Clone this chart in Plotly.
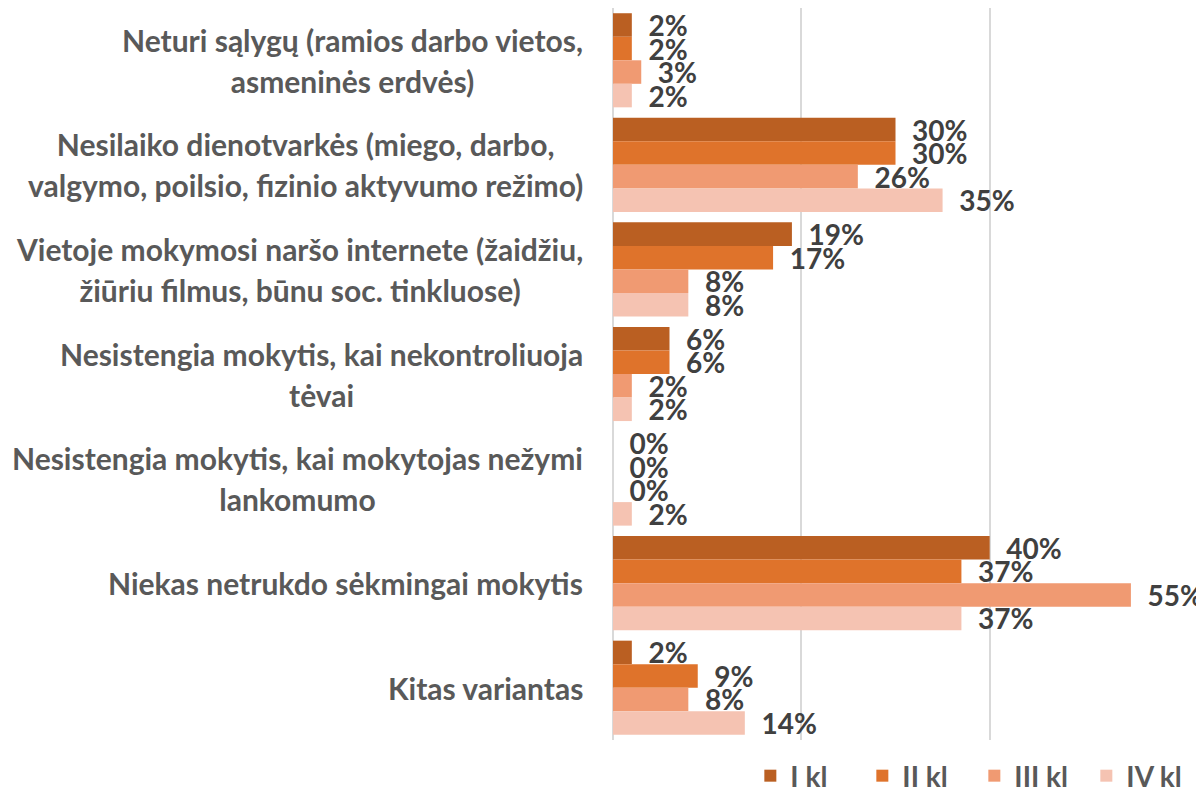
import plotly.graph_objects as go

categories = [
    "Neturi sąlygų (ramios darbo vietos,<br>asmeninės erdvės)",
    "Nesilaiko dienotvarkės (miego, darbo,<br>valgymo, poilsio, fizinio aktyvumo režimo)",
    "Vietoje mokymosi naršo internete (žaidžiu,<br>žiūriu filmus, būnu soc. tinkluose)",
    "Nesistengia mokytis, kai nekontroliuoja<br>tėvai",
    "Nesistengia mokytis, kai mokytojas nežymi<br>lankomumo",
    "Niekas netrukdo sėkmingai mokytis",
    "Kitas variantas",
]
series_names = ["I kl", "II kl", "III kl", "IV kl"]
kl1 = [2, 30, 19, 6, 0, 40, 2]
kl2 = [2, 30, 17, 6, 0, 37, 9]
kl3 = [3, 26, 8, 2, 0, 55, 8]
kl4 = [2, 35, 8, 2, 2, 37, 14]
colors = ["#BA5F22", "#DF732B", "#F09A72", "#F5C3B2"]

FONT = "Lato, 'Open Sans', sans-serif"

fig = go.Figure()
for name, vals, col in zip(series_names, [kl1, kl2, kl3, kl4], colors):
    fig.add_trace(go.Bar(
        name=name,
        y=categories,
        x=[v / 100 for v in vals],
        orientation="h",
        marker=dict(color=col, line=dict(width=0)),
        text=["\u00a0\u00a0" + f"{v}%" for v in vals],
        textposition="outside",
        constraintext="none",
        cliponaxis=False,
        textfont=dict(family=FONT, size=28, color="#404040", weight="bold"),
        hoverinfo="skip",
    ))

annotations = []
for c in categories:
    annotations.append(dict(
        x=0, xref="paper", y=c, yref="y",
        xanchor="right", yanchor="middle", xshift=-28,
        align="center", showarrow=False,
        text=f"<span style='font-size:30px'><b>{c}</b></span>",
        font=dict(family=FONT, size=31.5, color="#595959"),
    ))

fig.update_layout(
    width=1196, height=793,
    margin=dict(l=605, r=26, t=0, b=61, autoexpand=False),
    paper_bgcolor="white", plot_bgcolor="white",
    barmode="group", bargap=0.1, bargroupgap=0,
    annotations=annotations,
    showlegend=True,
    legend=dict(
        orientation="h", x=1.036, xanchor="right", y=-0.0833, yanchor="bottom",
        font=dict(family=FONT, size=28, color="#595959", weight="bold"),
        traceorder="normal", borderwidth=0,
        entrywidth=67, entrywidthmode="pixels",
    ),
    xaxis=dict(
        range=[0, 0.6], dtick=0.2, showticklabels=False,
        showgrid=True, gridcolor="#D9D9D9", gridwidth=2,
        zeroline=True, zerolinecolor="#D9D9D9", zerolinewidth=2,
        showline=False,
    ),
    yaxis=dict(
        autorange="reversed", showticklabels=False, showgrid=False,
        zeroline=False, showline=False, ticks="",
    ),
)

fig.write_html("out.html")
